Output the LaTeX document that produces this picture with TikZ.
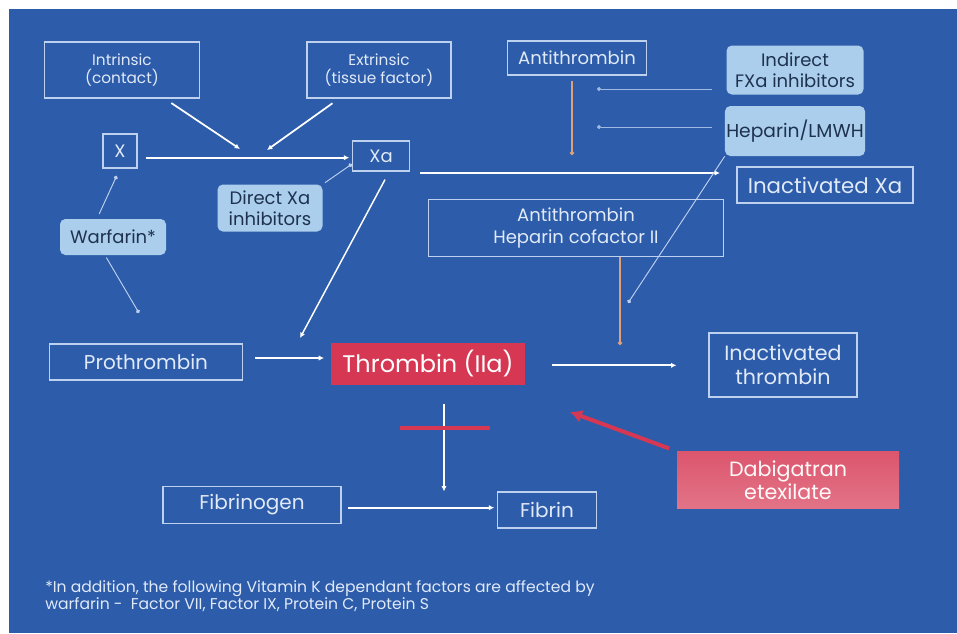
\documentclass[tikz,border=0pt]{standalone}
\usepackage{fontspec}
\setmainfont{Poppins}
\usepackage{xcolor}
\usetikzlibrary{arrows.meta, positioning, calc}

\definecolor{slideblue}{RGB}{45,92,170}
\definecolor{boxline}{RGB}{190,210,240}
\definecolor{boxtext}{RGB}{225,234,248}
\definecolor{drugfill}{RGB}{170,206,236}
\definecolor{drugtext}{RGB}{30,50,80}
\definecolor{thrombred}{RGB}{214,56,84}
\definecolor{antiorange}{RGB}{222,160,120}

\tikzset{
  factor/.style={draw=boxline, line width=0.9pt, text=boxtext, align=center, inner sep=1pt, font=\fontsize{13.5}{16.5}\selectfont},
  bigfactor/.style={factor, font=\fontsize{15}{17}\selectfont},
  drug/.style={fill=drugfill, rounded corners=4pt, text=drugtext, align=center, inner sep=1pt, font=\fontsize{13.5}{16}\selectfont},
  flow/.style={draw=white, line width=1.3pt, -{Latex[length=4pt,width=4pt]}},
  thin flow/.style={draw=boxline, line width=0.7pt, -{Circle[length=3pt]}},
  anti flow/.style={draw=antiorange, line width=1.3pt, -{Circle[length=3pt]}},
}

\begin{document}
\begin{tikzpicture}[x=0.75pt, y=-0.75pt]
% background
\fill[white] (0,0) rectangle (957,633);
\fill[slideblue] (9,9) rectangle (957,633);
\useasboundingbox (0,0) rectangle (957,633);

% coagulation factors
\node[factor, font=\fontsize{11.5}{14}\selectfont, minimum width=155*0.75pt, minimum height=56*0.75pt] (intr) at (122,70) {Intrinsic\\(contact)};
\node[factor, font=\fontsize{11.5}{14}\selectfont, minimum width=144*0.75pt, minimum height=56*0.75pt] (extr) at (379,70) {Extrinsic\\(tissue factor)};
\node[factor, minimum width=34*0.75pt, minimum height=34*0.75pt] (X) at (120,151) {X};
\node[factor, minimum width=57*0.75pt, minimum height=30*0.75pt] (Xa) at (381,156) {Xa};
\node[factor, minimum width=139*0.75pt, minimum height=34*0.75pt] (at1) at (577,58) {Antithrombin};
\node[bigfactor, font=\fontsize{16}{18}\selectfont, minimum width=176*0.75pt, minimum height=36*0.75pt] (inXa) at (825,185) {Inactivated Xa};
\node[factor, minimum width=295*0.75pt, minimum height=57*0.75pt] (at2) at (576,228) {Antithrombin\\Heparin cofactor II};
\node[bigfactor, minimum width=193*0.75pt, minimum height=36*0.75pt] (proth) at (146,362) {Prothrombin};
\node[fill=thrombred, text=white, minimum width=194*0.75pt, minimum height=42*0.75pt, font=\fontsize{18}{20}\selectfont] (thr) at (428,364) {Thrombin (IIa)};
\node[bigfactor, font=\fontsize{15.5}{18}\selectfont, minimum width=148*0.75pt, minimum height=64*0.75pt] (inthr) at (783,365) {Inactivated\\thrombin};
\node[bigfactor, minimum width=178*0.75pt, minimum height=37*0.75pt] (fbg) at (252,505) {Fibrinogen};
\node[bigfactor, minimum width=99*0.75pt, minimum height=36*0.75pt] (fbn) at (547,510) {Fibrin};

% drugs
\node[drug, minimum width=105*0.75pt, minimum height=47*0.75pt] (dxa) at (270,208) {Direct Xa\\inhibitors};
\node[drug, minimum width=106*0.75pt, minimum height=36*0.75pt] (warf) at (113,237) {Warfarin*};
\node[drug, minimum width=137*0.75pt, minimum height=49*0.75pt] (ind) at (795,70) {Indirect\\FXa inhibitors};
\node[drug, font=\fontsize{14}{16}\selectfont, minimum width=137*0.75pt, minimum height=50*0.75pt] (hep) at (795,131) {Heparin/LMWH};
\node[top color=thrombred!85!white, bottom color=thrombred!70!white, text=white!90!pink, align=center, minimum width=222*0.75pt, minimum height=57*0.75pt, font=\fontsize{15.5}{17.5}\selectfont] (dabi) at (788,480) {Dabigatran\\etexilate};

% free ends
\coordinate (jnA) at (240,149);
\coordinate (jnB) at (267,150);
\coordinate (thIn) at (300,338);
\coordinate (proIn) at (139,313);
\coordinate (indOut) at (712,89);
\coordinate (hepOut) at (712,127);
\coordinate (atIn1) at (597,89);
\coordinate (atIn2) at (597,127);
\coordinate (hepEnd) at (628,303);
\coordinate (xaOut) at (420,173);
\coordinate (xaEnd) at (720,173);
\coordinate (blkL) at (400,428);
\coordinate (blkR) at (490,428);
\coordinate (dabEnd) at (570,412);

% pathway
\draw[flow, shorten <=6pt] (intr) -- (jnA);
\draw[flow, shorten <=6pt] (extr) -- (jnB);
\draw[flow, shorten <=6pt, shorten >=2pt] ([yshift=-5pt]X.east) -- ([yshift=-5pt]X.east -| Xa.west);
\draw[thin flow, shorten <=2pt] (dxa.north east) -- ([yshift=-6pt]Xa.west);
\draw[thin flow, shorten <=4pt, shorten >=6pt] (warf.north) ++(-12pt,0) -- (X.south);
\draw[thin flow, shorten <=2pt] ([xshift=-6pt]warf.south) -- (proIn);
\draw[flow, line width=1.1pt] ([xshift=3pt, yshift=-6pt]Xa.south) -- (thIn);
\draw[flow] (xaOut) -- (xaEnd);
\draw[anti flow, shorten <=4pt] (at1.south -| 572,0) -- (572,155);
\draw[thin flow, boxline!80!slideblue] (indOut) -- (atIn1);
\draw[thin flow, boxline!80!slideblue] (hepOut) -- (atIn2);
\draw[thin flow] (hep.south west) -- (hepEnd);
\draw[anti flow] (at2.south -| 620,0) -- (620,345);
\draw[flow, shorten <=9pt, shorten >=5pt] ([yshift=3pt]proth.east) -- ([yshift=3pt]proth.east -| thr.west);
\draw[flow, shorten <=20pt, shorten >=24pt] ([yshift=-1pt]thr.east) -- ([yshift=-1pt]thr.east -| inthr.west);
\draw[flow] ([xshift=12pt, yshift=-14pt]thr.south) -- ([xshift=12pt]fbn.north -| thr.south);
\draw[thrombred, line width=3pt] (blkL) -- (blkR);
\draw[flow, shorten <=5pt, shorten >=2pt] ([yshift=-2pt]fbg.east) -- ([yshift=-2pt]fbg.east -| fbn.west);
\draw[thrombred, line width=3pt, -{Latex[length=9pt,width=10pt]}, shorten <=6pt] (dabi.north west) -- (dabEnd);

% footnote
\node[anchor=north west, text=boxtext, align=left, inner sep=0pt, font=\fontsize{11.7}{12}\selectfont] (note) at (45,580) {*In addition, the following Vitamin K dependant factors are affected by\\warfarin -\ \ Factor VII, Factor IX, Protein C, Protein S};
\end{tikzpicture}
\end{document}
